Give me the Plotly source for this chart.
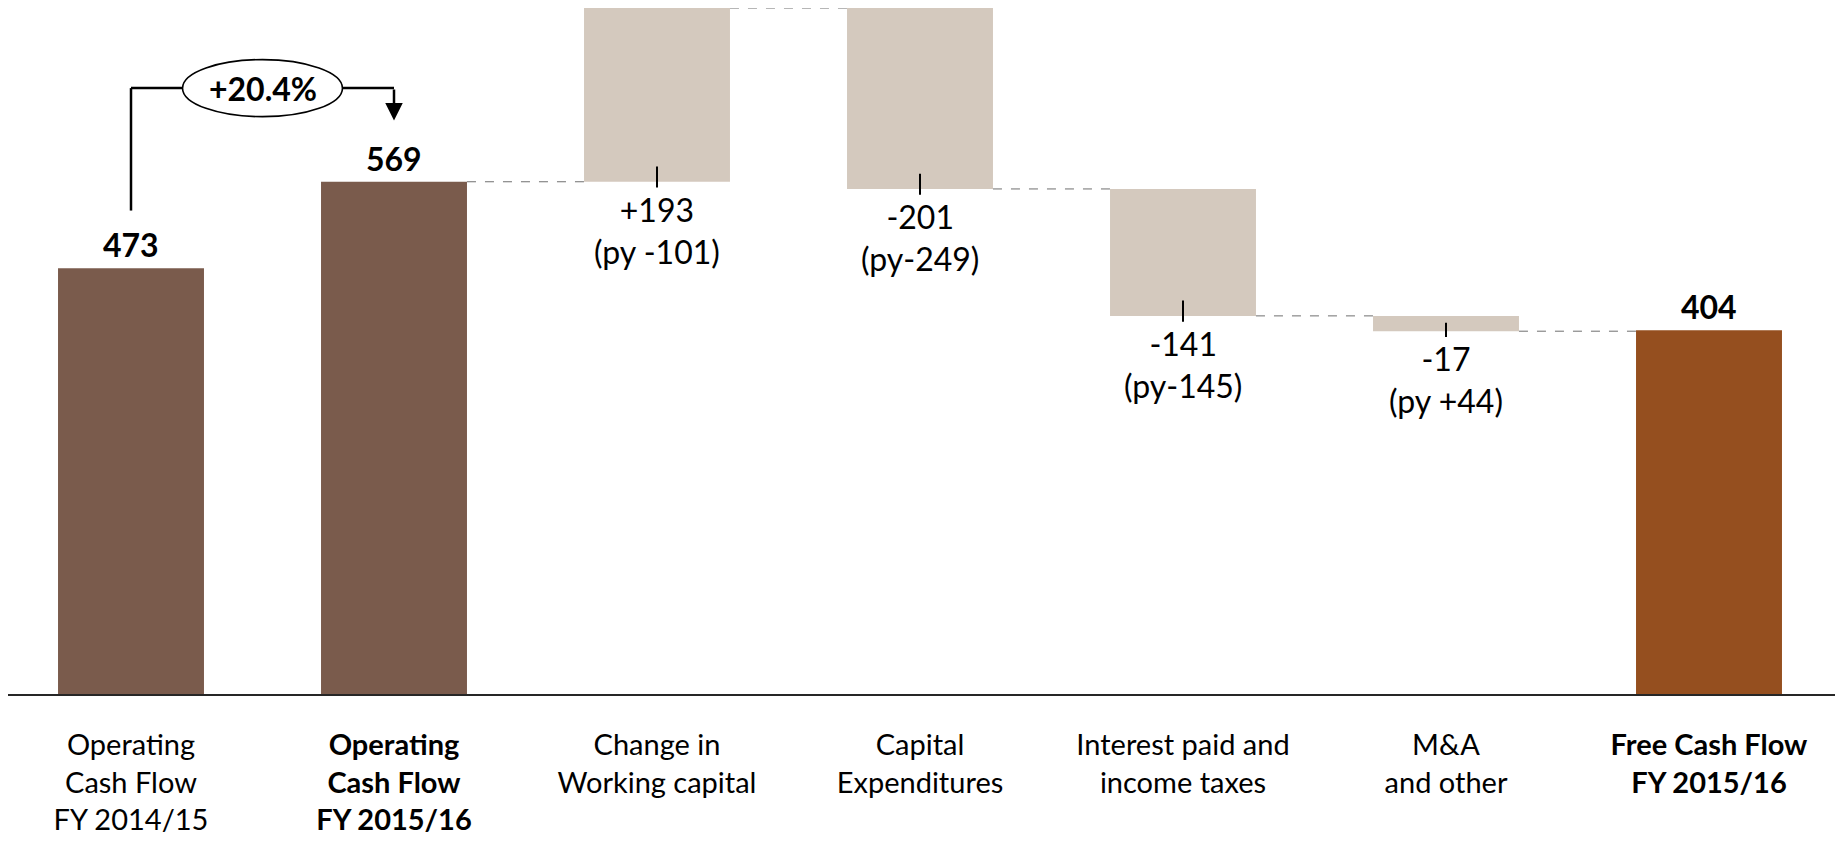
import plotly.graph_objects as go

# categories along the bridge
categories = [
    "Operating<br>Cash Flow<br>FY 2014/15",
    "<b>Operating</b><br><b>Cash Flow</b><br><b>FY 2015/16</b>",
    "Change in<br>Working capital",
    "Capital<br>Expenditures",
    "Interest paid and<br>income taxes",
    "M&A<br>and other",
    "<b>Free Cash Flow</b><br><b>FY 2015/16</b>",
]
values = [473, 569, 193, -201, -141, -17, 404]
measures = ["total", "total", "delta", "delta", "delta", "delta", "total"]
prior_year = ["", "", "(py -101)", "(py-249)", "(py-145)", "(py +44)", ""]
growth_label = "+20.4%"

DARK_BROWN = "#7a5b4c"
SAND = "#d4c9be"
RUST = "#954f1f"
bar_colors = [DARK_BROWN, DARK_BROWN, SAND, SAND, SAND, SAND, RUST]
FONT = "Lato, 'Open Sans', sans-serif"
BAR_W = 0.555

# page has an 8px body margin, so the figure is a bit smaller than the window
FIG_W, FIG_H = 1835, 834
PX_PER_CAT = 263
X_LEFT = -123 / PX_PER_CAT
Y_TOP = 762
PLOT_H = Y_TOP * 0.9

# work out bar bases / heights
bases, heights, lows, highs = [], [], [], []
running = 0
for v, m in zip(values, measures):
    if m == "total":
        lo, hi = 0, v
        running = v
    else:
        lo, hi = min(running, running + v), max(running, running + v)
        running = running + v
    bases.append(lo)
    heights.append(hi - lo)
    lows.append(lo)
    highs.append(hi)

fig = go.Figure()
fig.add_trace(
    go.Bar(
        x=categories,
        y=heights,
        base=bases,
        width=BAR_W,
        marker={"color": bar_colors, "line": {"width": 0}},
        hoverinfo="skip",
        cliponaxis=False,
    )
)

shapes = []
annotations = []

# dashed connectors between consecutive bars (skip the prior-year bar)
level = values[1]
for i in range(2, len(values)):
    start = level
    if measures[i] == "delta":
        level = level + values[i]
    shapes.append(
        dict(
            type="line", xref="x", yref="y",
            x0=i - 1 + BAR_W / 2, x1=i - BAR_W / 2, y0=start, y1=start,
            line={"color": "#6f6f6f", "width": 1, "dash": "dash"},
        )
    )

for i, (v, m) in enumerate(zip(values, measures)):
    if m == "total":
        annotations.append(
            dict(
                x=i, y=highs[i], xref="x", yref="y", text=f"<b>{v}</b>",
                showarrow=False, yanchor="bottom", yshift=2,
                font={"family": FONT, "size": 32, "color": "#000"},
            )
        )
    else:
        lo, hi = lows[i], highs[i]
        shapes.append(
            dict(
                type="line", xref="x", yref="y",
                x0=i, x1=i, y0=lo - 6.5, y1=min(hi, lo + 17) if hi - lo > 30 else (lo + hi) / 2 + 1,
                line={"color": "#000", "width": 2},
            )
        )
        annotations.append(
            dict(
                x=i, y=lo - 6.5, xref="x", yref="y",
                text=f"{v:+d}<br>{prior_year[i]}",
                showarrow=False, yanchor="top", yshift=0,
                font={"family": FONT, "size": 32, "color": "#000"},
            )
        )

# growth bracket between the two operating cash flow bars
bracket_y = values[1] + 104
start_y = values[0] + 64
tip_y = values[1] + 68
ell_half_w = 0.304
ell_half_h = 31.7
line_style = {"color": "#000", "width": 2.5}
shapes += [
    dict(type="line", xref="x", yref="y", x0=0, x1=0, y0=start_y, y1=bracket_y, line=line_style),
    dict(type="line", xref="x", yref="y", x0=0, x1=0.5 - ell_half_w, y0=bracket_y, y1=bracket_y, line=line_style),
    dict(type="line", xref="x", yref="y", x0=0.5 + ell_half_w, x1=1, y0=bracket_y, y1=bracket_y, line=line_style),
    dict(
        type="circle", xref="x", yref="y",
        x0=0.5 - ell_half_w, x1=0.5 + ell_half_w,
        y0=bracket_y - ell_half_h, y1=bracket_y + ell_half_h,
        line={"color": "#000", "width": 1.6}, fillcolor="white",
    ),
]
annotations.append(
    dict(
        x=1, y=tip_y, ax=1, ay=bracket_y, xref="x", yref="y", axref="x", ayref="y",
        showarrow=True, arrowhead=2, arrowsize=1.4, arrowwidth=2.5, arrowcolor="#000", text="",
        standoff=0,
    )
)
annotations.append(
    dict(
        x=0.5, y=bracket_y, xref="x", yref="y", text=f"<b>{growth_label}</b>",
        showarrow=False, font={"family": FONT, "size": 32, "color": "#000"},
    )
)

fig.update_layout(
    width=FIG_W,
    height=FIG_H,
    margin={"l": 0, "r": 0, "t": 0, "b": FIG_H - PLOT_H, "autoexpand": False},
    paper_bgcolor="white",
    plot_bgcolor="white",
    showlegend=False,
    font={"family": FONT, "color": "#000"},
    shapes=shapes,
    annotations=annotations,
)
fig.update_xaxes(
    range=[X_LEFT, X_LEFT + FIG_W / PX_PER_CAT],
    showline=True,
    linecolor="#262626",
    linewidth=2,
    ticks="",
    showgrid=False,
    zeroline=False,
    tickfont={"family": FONT, "size": 29, "color": "#000"},
    ticklabelstandoff=24,
)
fig.update_yaxes(range=[0, Y_TOP], visible=False, showgrid=False, zeroline=False)

fig.write_html("out.html")
